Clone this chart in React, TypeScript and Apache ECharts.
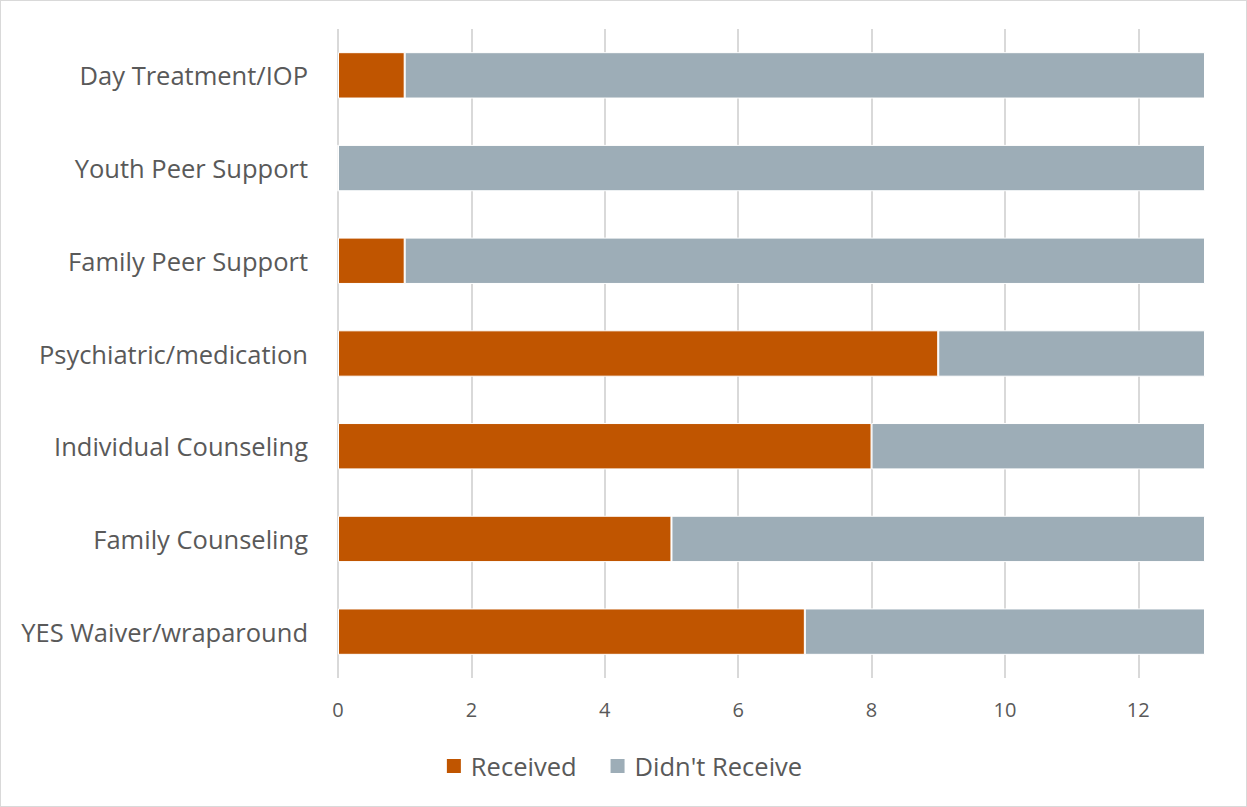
import React, { useEffect, useRef } from "react";
import * as echarts from "echarts";

const categories = [
  "YES Waiver/wraparound",
  "Family Counseling",
  "Individual Counseling",
  "Psychiatric/medication",
  "Family Peer Support",
  "Youth Peer Support",
  "Day Treatment/IOP",
];
const received = [7, 5, 8, 9, 1, 0, 1];
const didntReceive = [6, 8, 5, 4, 12, 13, 12];
const seriesNames = ["Received", "Didn't Receive"];

const FONT = "'Open Sans', 'Noto Sans', sans-serif";

export default function App() {
  const ref = useRef<HTMLDivElement>(null);
  useEffect(() => {
    if (!ref.current) return;
    const chart = echarts.init(ref.current, undefined, { renderer: "svg" });
    chart.setOption({
      animation: false,
      backgroundColor: "#ffffff",
      textStyle: { fontFamily: FONT },
      grid: { left: 337, right: 41, top: 28, bottom: 128, containLabel: false },
      legend: {
        bottom: 22,
        left: "center",
        itemWidth: 16,
        itemHeight: 16,
        itemGap: 32,
        icon: "rect",
        textStyle: { fontSize: 25.5, color: "#595959", fontFamily: FONT, padding: [0, 0, 0, 4] },
        data: seriesNames,
      },
      xAxis: {
        type: "value",
        min: 0,
        max: 13,
        interval: 2,
        axisLine: { show: false },
        axisTick: { show: false },
        splitLine: { show: true, showMaxLine: false, lineStyle: { color: "#d9d9d9", width: 2 } },
        axisLabel: {
          fontSize: 20,
          color: "#595959",
          margin: 21,
          showMaxLabel: false,
          fontFamily: FONT,
        },
      },
      yAxis: {
        type: "category",
        data: categories,
        axisLine: { show: false },
        axisTick: { show: false },
        axisLabel: { fontSize: 25.5, color: "#595959", margin: 30, fontFamily: FONT },
      },
      series: [
        {
          name: seriesNames[0],
          type: "bar",
          stack: "total",
          barWidth: "50%",
          data: received,
          itemStyle: { color: "#C05500", borderColor: "#ffffff", borderWidth: 1 },
        },
        {
          name: seriesNames[1],
          type: "bar",
          stack: "total",
          barWidth: "50%",
          data: didntReceive,
          itemStyle: { color: "#9DADB7", borderColor: "#ffffff", borderWidth: 1 },
        },
      ],
    });
    return () => chart.dispose();
  }, []);
  return (
    <div
      style={{
        position: "fixed",
        left: 0,
        top: 0,
        width: 1247,
        height: 807,
        boxSizing: "border-box",
        border: "1px solid #d9d9d9",
        background: "#fff",
      }}
    >
      <div ref={ref} style={{ width: 1245, height: 805 }} />
    </div>
  );
}
